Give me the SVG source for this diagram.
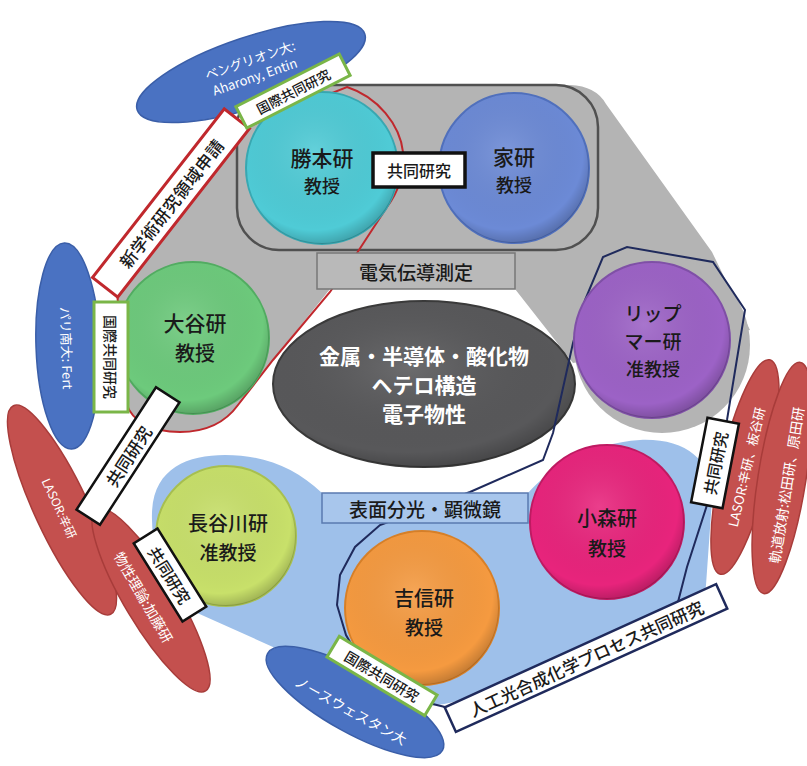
<svg xmlns="http://www.w3.org/2000/svg" width="807" height="766" viewBox="0 0 807 766">
<defs>
<radialGradient id="shade" cx="0.45" cy="0.4" r="0.6">
<stop offset="0" stop-color="#fff" stop-opacity="0.12"/>
<stop offset="0.85" stop-color="#000" stop-opacity="0"/>
<stop offset="1" stop-color="#000" stop-opacity="0.18"/>
</radialGradient>
<style>
.t{font-family:"Noto Sans CJK JP","Noto Sans",sans-serif;text-anchor:middle;dominant-baseline:central}
.lab{fill:#1a1a1a;font-weight:500}
.wt{fill:#fff}
.bx{fill:#fff}
.green{stroke:#7ab648;stroke-width:3}
.black{stroke:#111;stroke-width:2.5}
.redb{stroke:#c0282d;stroke-width:3}
.navyb{stroke:#1f2a5c;stroke-width:2.5}
.blueE{fill:#4a72c2;stroke:#3a5ea8;stroke-width:1.5}
.redE{fill:#c4504e;stroke:#a83c3a;stroke-width:1.5}
.circ{stroke-width:2}
</style>
</defs>
<rect width="807" height="766" fill="#fff"/>

<g id="regions">
<path d="M262,85 L570,85 Q596,86 606,104 L712,252 L750,330 L573,363 L515,289 L330,289 L273,360 L238,405 C225,423 205,432 180,432 C150,432 132,420 127,405 L117,292 L247,127 L250,100 Q252,88 262,85 Z" fill="#b4b4b4"/>
<circle cx="662" cy="345" r="88" fill="#b4b4b4"/>
<path d="M152,520 C150,470 185,455 225,455 C265,455 295,468 322,493 L528,493 C548,470 590,443 640,440 C685,438 714,460 712,500 L706,585 C704,605 690,615 672,622 L460,700 C430,710 400,705 380,695 L195,612 C165,598 153,560 152,520 Z" fill="#9ec0ea"/>
<rect x="237" y="85" width="361" height="165" rx="42" fill="none" stroke="#505050" stroke-width="2.5"/>
<path d="M247,127 L347,87 C378,97 400,125 403,152 C405,175 398,192 387,207 L357,253 L330,292 L273,360 L238,405 C225,423 205,432 180,432 C150,432 132,420 127,405 L117,292 Z" fill="none" stroke="#c0282d" stroke-width="2"/>
</g>

<g id="core">
<ellipse cx="424" cy="384" rx="151" ry="83" fill="#58585a" stroke="#3a3a3a" stroke-width="2"/>
<ellipse cx="424" cy="384" rx="151" ry="83" fill="url(#shade)"/>
<text class="t wt" x="424" y="355" font-size="21" font-weight="700">金属・半導体・酸化物</text>
<text class="t wt" x="424" y="384" font-size="21" font-weight="700">ヘテロ構造</text>
<text class="t wt" x="424" y="413" font-size="21" font-weight="700">電子物性</text>
</g>

<g id="connectors">
<path d="M445,707 L400,696 L365,668 L346,635 L337,605 L340,575 L355,547 L380,525 L470,492 L543,460 L553,433 L573,343 L585,300 L603,257 L627,247 L713,262 L745,310 L727,420 L707,505 L687,567 L678,602" fill="none" stroke="#1f2a5c" stroke-width="2"/>
</g>

<g id="katsumoto">
<circle class="circ" cx="322" cy="168" r="76" fill="#4fcbd6" stroke="#38a8b2"/>
<circle cx="322" cy="168" r="76" fill="url(#shade)"/>
<text class="t lab" x="322" y="157" font-size="21">勝本研</text>
<text class="t lab" x="322" y="185" font-size="18">教授</text>
</g>
<g id="ie">
<circle class="circ" cx="514" cy="168" r="75" fill="#6c8ad6" stroke="#5070bd"/>
<circle cx="514" cy="168" r="75" fill="url(#shade)"/>
<text class="t lab" x="514" y="156" font-size="21">家研</text>
<text class="t lab" x="514" y="184" font-size="18">教授</text>
</g>
<g id="ohtani">
<circle class="circ" cx="193" cy="338" r="76" fill="#6dca7c" stroke="#52ad62"/>
<circle cx="193" cy="338" r="76" fill="url(#shade)"/>
<text class="t lab" x="195" y="322" font-size="21">大谷研</text>
<text class="t lab" x="195" y="352" font-size="20">教授</text>
</g>
<g id="lippmaa">
<circle class="circ" cx="652" cy="340" r="78" fill="#9c62c6" stroke="#8050a8"/>
<circle cx="652" cy="340" r="78" fill="url(#shade)"/>
<text class="t lab" x="653" y="312" font-size="19">リップ</text>
<text class="t lab" x="653" y="340" font-size="19">マー研</text>
<text class="t lab" x="653" y="368" font-size="18">准教授</text>
</g>
<g id="hasegawa">
<circle class="circ" cx="226" cy="536" r="70" fill="#c8e06a" stroke="#a8c050"/>
<circle cx="226" cy="536" r="70" fill="url(#shade)"/>
<text class="t lab" x="228" y="522" font-size="20">長谷川研</text>
<text class="t lab" x="228" y="551" font-size="19">准教授</text>
</g>
<g id="yoshinobu">
<circle class="circ" cx="422" cy="608" r="77" fill="#f59a40" stroke="#d88028"/>
<circle cx="422" cy="608" r="77" fill="url(#shade)"/>
<text class="t lab" x="424" y="597" font-size="20">吉信研</text>
<text class="t lab" x="424" y="626" font-size="19">教授</text>
</g>
<g id="komori">
<circle class="circ" cx="607" cy="522" r="77" fill="#e8247c" stroke="#c01a62"/>
<circle cx="607" cy="522" r="77" fill="url(#shade)"/>
<text class="t lab" x="607" y="517" font-size="20">小森研</text>
<text class="t lab" x="607" y="547" font-size="19">教授</text>
</g>

<g id="label-denki">
<rect x="317" y="253" width="198" height="36" fill="#b9b9b9" stroke="#777" stroke-width="1.5"/>
<text class="t lab" x="416" y="271" font-size="19">電気伝導測定</text>
</g>
<g id="label-hyomen">
<rect x="322" y="493" width="206" height="30" fill="#a8c6ec" stroke="#5a7ab0" stroke-width="1.5"/>
<text class="t lab" x="425" y="508" font-size="19">表面分光・顕微鏡</text>
</g>
<g id="label-kyodo-center">
<rect x="373" y="153" width="92" height="34" class="bx" stroke="#111" stroke-width="3.5"/>
<text class="t lab" x="419" y="170" font-size="16" font-weight="700">共同研究</text>
</g>

<g id="ext-bengurion">
<ellipse cx="251" cy="72" rx="120" ry="35" transform="rotate(-18.5 251 72)" class="blueE"/>
<g transform="translate(251,72) rotate(-19)">
<text class="t wt" x="3" y="-12" font-size="13">ベングリオン大:</text>
<text class="t wt" x="2" y="5" font-size="13">Aharony, Entin</text>
</g>
</g>
<g id="ext-paris">
<ellipse cx="68" cy="346" rx="32" ry="103" transform="rotate(-2 68 346)" class="blueE"/>
<text class="t wt" font-size="13" transform="translate(67,348) rotate(88)">パリ南大: Fert</text>
</g>
<g id="ext-lasor-left">
<ellipse cx="62" cy="510" rx="115" ry="27" transform="rotate(65 62 510)" class="redE"/>
<text class="t wt" font-size="12" transform="translate(60,508) rotate(65)">LASOR:辛研</text>
</g>
<g id="ext-kato">
<ellipse cx="151" cy="600" rx="106" ry="26" transform="rotate(59 151 600)" class="redE"/>
<text class="t wt" font-size="14" transform="translate(144,597) rotate(60)">物性理論:加藤研</text>
</g>
<g id="ext-lasor-right">
<ellipse cx="745" cy="467" rx="110" ry="24" transform="rotate(-77 745 467)" class="redE"/>
<text class="t wt" font-size="13" transform="translate(746,467) rotate(-77)">LASOR:辛研、板谷研</text>
</g>
<g id="ext-kido">
<ellipse cx="782" cy="478" rx="117" ry="24" transform="rotate(-81 782 478)" class="redE"/>
<text class="t wt" font-size="14" transform="translate(786,485) rotate(-81)">軌道放射:松田研、原田研</text>
</g>
<g id="ext-northwestern">
<ellipse cx="355" cy="702" rx="100" ry="31" transform="rotate(29 355 702)" class="blueE"/>
<text class="t wt" font-size="14" transform="translate(351,710) rotate(29)">ノースウェスタン大</text>
</g>

<g id="label-shingakujutsu" transform="translate(171,203) rotate(-52)">
<rect x="-107" y="-16" width="214" height="32" class="bx redb"/>
<text class="t lab" font-size="17" font-weight="700" letter-spacing="0.5">新学術研究領域申請</text>
</g>
<g id="label-kokusai-top" transform="translate(293,91) rotate(-27)">
<rect x="-58" y="-12" width="116" height="24" class="bx green"/>
<text class="t lab" font-size="13.5" font-weight="700">国際共同研究</text>
</g>
<g id="label-kokusai-left" transform="translate(111,357) rotate(90)">
<rect x="-55" y="-17" width="110" height="34" class="bx green"/>
<text class="t lab" font-size="14" font-weight="700">国際共同研究</text>
</g>
<g id="label-kokusai-bottom" transform="translate(382,676) rotate(31)">
<rect x="-57" y="-12" width="114" height="24" class="bx green"/>
<text class="t lab" font-size="14" font-weight="700">国際共同研究</text>
</g>
<g id="label-kyodo-left" transform="translate(128,456) rotate(-57)">
<rect x="-73" y="-14" width="146" height="28" class="bx black"/>
<text class="t lab" font-size="17" font-weight="700">共同研究</text>
</g>
<g id="label-kyodo-hasegawa" transform="translate(170,575) rotate(58)">
<rect x="-46" y="-14" width="92" height="28" class="bx black"/>
<text class="t lab" font-size="16" font-weight="700">共同研究</text>
</g>
<g id="label-kyodo-right" transform="translate(715,463) rotate(-79)">
<rect x="-43" y="-16" width="86" height="32" class="bx black"/>
<text class="t lab" font-size="16" font-weight="700">共同研究</text>
</g>
<g id="label-jinko" transform="translate(586,658) rotate(-24.4)">
<rect x="-149" y="-13.5" width="298" height="27" class="bx navyb"/>
<text class="t lab" font-size="17" font-weight="500">人工光合成化学プロセス共同研究</text>
</g>
</svg>
